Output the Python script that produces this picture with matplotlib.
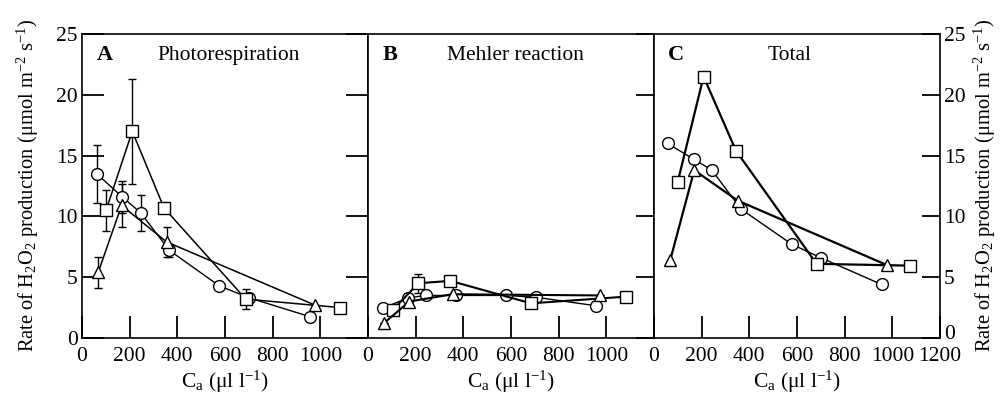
import matplotlib
matplotlib.use("Agg")
import matplotlib.pyplot as plt
from matplotlib.transforms import ScaledTranslation

plt.rcParams['font.family'] = ['Liberation Serif', 'DejaVu Serif']
plt.rcParams['mathtext.fontset'] = 'custom'
plt.rcParams['mathtext.rm'] = 'Liberation Serif'
plt.rcParams['mathtext.it'] = 'Liberation Serif:italic'

# ---- Data: Panel A (Photorespiration) ----
a_circ_x = [62, 169, 246, 367, 575, 702, 957]
a_circ_y = [13.5, 11.6, 10.3, 7.2, 4.3, 3.3, 1.75]
a_circ_err = [2.4, 1.3, 1.5, 0.5, 0, 0, 0]
a_sq_x = [101, 211, 344, 687, 1083]
a_sq_y = [10.5, 17.0, 10.7, 3.2, 2.5]
a_sq_err = [1.7, 4.3, 0.4, 0.8, 0]
a_tri_x = [68, 166, 355, 978]
a_tri_y = [5.4, 10.9, 7.9, 2.7]
a_tri_err = [1.3, 1.8, 1.2, 0]

# ---- Panel B (Mehler reaction) ----
b_circ_x = [62, 169, 243, 369, 579, 705, 957]
b_circ_y = [2.45, 3.3, 3.5, 3.5, 3.5, 3.35, 2.65]
b_circ_err = [0, 0.3, 0.3, 0, 0, 0, 0]
b_sq_x = [104, 211, 345, 684, 1083]
b_sq_y = [2.3, 4.5, 4.7, 2.85, 3.4]
b_sq_err = [0, 0.8, 0, 0, 0]
b_tri_x = [66, 173, 355, 973]
b_tri_y = [1.2, 3.0, 3.6, 3.5]
b_tri_err = [0, 0, 0, 0]

# ---- Panel C (Total) ----
c_circ_x = [57, 167, 243, 365, 579, 700, 955]
c_circ_y = [16.0, 14.7, 13.8, 10.6, 7.7, 6.6, 4.4]
c_sq_x = [99, 208, 344, 682, 1075]
c_sq_y = [12.8, 21.5, 15.4, 6.1, 5.95]
c_tri_x = [68, 169, 351, 977]
c_tri_y = [6.4, 13.8, 11.3, 6.0]

panel_letters = ['A', 'B', 'C']
panel_titles = ['Photorespiration', 'Mehler reaction', 'Total']
title_xpos = [0.514, 0.517, 0.475]
xticks_ab = [0, 200, 400, 600, 800, 1000]
xticks_c = [0, 200, 400, 600, 800, 1000, 1200]
yticks = [0, 5, 10, 15, 20, 25]

ylabel = r'Rate of H$_2$O$_2$ production ($\mathrm{\mu}$mol m$^{-2}$ s$^{-1}$)'
xlabel = r'C$_\mathrm{a}$ ($\mathrm{\mu}$l l$^{-1}$)'

fig = plt.figure(figsize=(10.01, 4.0), dpi=100)
W = 286 / 1001
L0 = 82 / 1001
B0 = 1 - 338 / 400
H = (338 - 34) / 400
axes = [fig.add_axes([L0 + i * W, B0, W, H]) for i in range(3)]

FS = 15.5
YFS = 14.8
ekw = dict(ecolor='black', elinewidth=1.0, capsize=3, capthick=1.0)

def draw(ax, cx, cy, ce, sx, sy, se, tx, ty, te, thick):
    if ce is not None:
        ax.errorbar(cx, cy, yerr=ce, fmt='none', **ekw, zorder=2)
        ax.errorbar(sx, sy, yerr=se, fmt='none', **ekw, zorder=2)
        ax.errorbar(tx, ty, yerr=te, fmt='none', **ekw, zorder=2)
    base = dict(mfc='white', mec='black', mew=1.0, color='black')
    ax.plot(cx, cy, marker='o', ms=8.5, lw=1.0, zorder=3, **base)
    ax.plot(sx, sy, marker='s', ms=8, lw=thick, zorder=3, **base)
    ax.plot(tx, ty, marker='^', ms=9, lw=thick, zorder=3, **base)

draw(axes[0], a_circ_x, a_circ_y, a_circ_err, a_sq_x, a_sq_y, a_sq_err,
     a_tri_x, a_tri_y, a_tri_err, 1.1)
draw(axes[1], b_circ_x, b_circ_y, b_circ_err, b_sq_x, b_sq_y, b_sq_err,
     b_tri_x, b_tri_y, b_tri_err, 1.5)
draw(axes[2], c_circ_x, c_circ_y, None, c_sq_x, c_sq_y, None,
     c_tri_x, c_tri_y, None, 1.6)

for i, ax in enumerate(axes):
    ax.set_xlim(0, 1200)
    ax.set_ylim(0, 25)
    for s in ax.spines.values():
        s.set_linewidth(1.2)
    ax.set_xticks(xticks_c if i == 2 else xticks_ab)
    ax.set_yticks(yticks)
    ax.tick_params(axis='x', direction='in', length=16, width=1.3,
                   labelsize=FS, pad=6.5, top=False)
    ax.tick_params(axis='y', direction='in', length=13, width=1.3,
                   labelsize=FS, pad=3)
    ax.tick_params(axis='y', which='major', left=(i == 0), right=True,
                   labelleft=(i == 0), labelright=(i == 2))
    if i == 0:
        ax.yaxis.set_tick_params(which='major', length=16)
    ax.set_xlabel(xlabel, fontsize=FS, labelpad=2)
    ax.text(0.05, 0.914, panel_letters[i], transform=ax.transAxes,
            fontsize=FS + 0.5, ha='left', va='baseline', fontweight='bold')
    ax.text(title_xpos[i], 0.914, panel_titles[i], transform=ax.transAxes,
            fontsize=FS, ha='center', va='baseline')

axes[0].set_ylabel(ylabel, fontsize=YFS, labelpad=11)
axes[2].yaxis.set_label_position('right')
axes[2].set_ylabel(ylabel, fontsize=YFS, labelpad=4, rotation=90)

# nudge the right-hand "0" label up slightly so it clears the "1200" label
zero_lbl = axes[2].yaxis.get_major_ticks()[0].label2
zero_lbl.set_transform(zero_lbl.get_transform()
                       + ScaledTranslation(0, 4 / 72, fig.dpi_scale_trans))

fig.savefig('out.png', dpi=100)
